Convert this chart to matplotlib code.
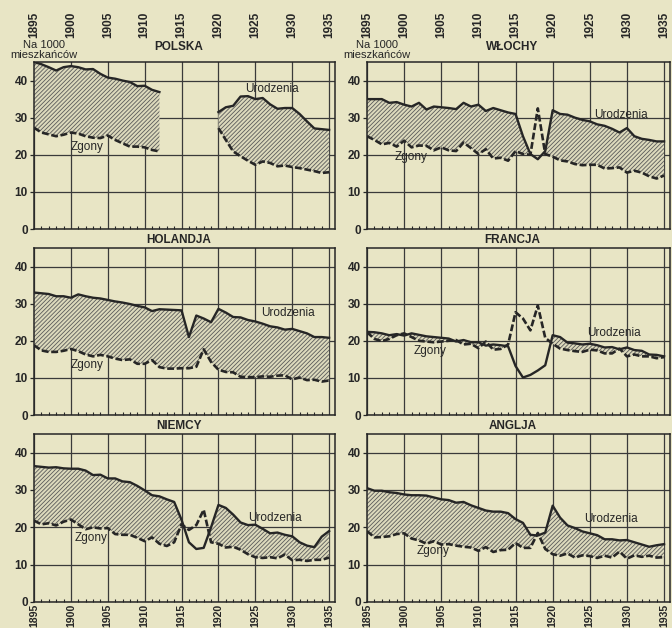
import matplotlib
matplotlib.use('Agg')
import matplotlib.pyplot as plt
import numpy as np
from matplotlib.ticker import MultipleLocator

plt.rcParams['font.family'] = ['Liberation Sans', 'DejaVu Sans']
plt.rcParams['hatch.linewidth'] = 0.6

nan = np.nan
years = list(range(1895, 1936))
year_ticks = list(range(1895, 1936, 5))
y_ticks = [0, 10, 20, 30, 40]

titles = ['POLSKA', 'WŁOCHY', 'HOLANDJA', 'FRANCJA', 'NIEMCY', 'ANGLJA']

polska_births = [45.0, 44.4, 43.6, 42.7, 43.6, 43.9, 43.6, 43.0, 43.1, 41.8, 40.8, 40.5, 40.0, 39.6,
                 38.5, 38.6, 37.5, 36.9, nan, nan, nan, nan, nan, nan, nan,
                 31.5, 32.8, 33.2, 35.7, 35.8, 35.0, 35.3, 33.6, 32.4, 32.6, 32.6, 31.0, 29.0, 27.1, 26.9, 26.7]
polska_deaths = [27.3, 26.0, 25.5, 25.0, 25.4, 26.0, 25.7, 25.0, 24.6, 24.5, 25.2, 24.0, 23.1, 22.2,
                 22.2, 22.0, 21.3, 20.9, nan, nan, nan, nan, nan, nan, nan,
                 27.2, 24.0, 20.9, 19.6, 18.4, 17.3, 18.2, 17.8, 16.9, 17.1, 16.7, 16.4, 16.0, 15.6, 15.1, 15.3]

wlochy_births = [35.0, 35.0, 35.0, 34.0, 34.2, 33.5, 33.0, 34.0, 32.2, 33.0, 32.8, 32.6, 32.3, 34.0,
                 33.0, 33.5, 31.8, 32.6, 32.0, 31.4, 31.0, 25.0, 20.2, 18.8, 21.0, 32.0, 31.0, 30.8,
                 30.0, 29.4, 29.0, 28.2, 27.8, 27.0, 26.0, 27.2, 25.0, 24.3, 24.0, 23.6, 23.6]
wlochy_deaths = [25.0, 24.0, 22.8, 23.2, 22.2, 23.8, 22.0, 22.5, 22.4, 21.2, 22.0, 21.2, 21.0, 23.3,
                 21.8, 20.2, 21.5, 19.0, 19.2, 18.4, 21.0, 20.2, 20.0, 32.5, 20.2, 19.5, 18.5, 18.2,
                 17.5, 17.2, 17.3, 17.3, 16.3, 16.4, 16.6, 15.2, 15.7, 15.2, 14.2, 13.6, 14.4]

holandja_births = [33.0, 32.8, 32.6, 32.0, 32.0, 31.6, 32.5, 32.0, 31.6, 31.4, 31.0, 30.6, 30.3, 29.9,
                   29.4, 29.0, 28.0, 28.5, 28.4, 28.3, 28.2, 21.0, 26.8, 26.0, 25.0, 28.6, 27.6, 26.4,
                   26.3, 25.6, 25.2, 24.6, 23.9, 23.6, 23.0, 23.2, 22.6, 22.0, 21.0, 21.0, 20.8]
holandja_deaths = [18.8, 17.4, 17.0, 17.0, 17.3, 17.8, 17.2, 16.3, 15.8, 16.2, 15.8, 15.2, 14.8, 15.0,
                   13.8, 13.8, 14.8, 12.9, 12.5, 12.5, 12.6, 12.6, 13.0, 17.7, 14.3, 12.2, 11.6, 11.5,
                   10.3, 10.2, 10.2, 10.4, 10.3, 10.6, 10.7, 9.6, 10.1, 9.4, 9.5, 9.0, 9.3]

francja_births = [22.4, 22.3, 22.0, 21.5, 21.8, 21.4, 22.0, 21.6, 21.2, 21.0, 20.8, 20.6, 19.8, 20.2,
                  19.6, 19.6, 18.7, 19.0, 18.8, 18.5, 13.2, 10.1, 10.8, 12.0, 13.4, 21.5, 21.0, 19.5,
                  19.3, 19.0, 19.2, 18.8, 18.2, 18.3, 17.7, 18.2, 17.5, 17.3, 16.3, 16.2, 15.8]
francja_deaths = [22.3, 20.5, 19.9, 20.5, 21.5, 22.0, 21.0, 20.0, 19.8, 19.6, 19.8, 20.0, 20.2, 19.0,
                  19.2, 18.0, 19.8, 17.6, 17.8, 19.0, 27.7, 26.0, 22.8, 29.5, 20.8, 19.2, 17.9, 17.5,
                  17.2, 17.0, 17.6, 17.4, 16.6, 16.6, 17.9, 15.8, 16.3, 15.8, 15.8, 15.3, 15.6]

niemcy_births = [36.4, 36.2, 36.0, 36.1, 35.8, 35.7, 35.7, 35.2, 34.0, 34.1, 33.1, 33.1, 32.3, 32.1,
                 31.1, 29.9, 28.6, 28.3, 27.5, 26.8, 22.0, 16.0, 14.2, 14.5, 20.0, 26.0, 25.2, 23.4,
                 21.3, 20.6, 20.7, 19.6, 18.4, 18.6, 18.0, 17.6, 16.0, 15.1, 14.7, 17.5, 19.0]
niemcy_deaths = [21.8, 20.8, 21.1, 20.5, 21.5, 22.1, 20.8, 19.5, 20.0, 19.7, 19.8, 18.2, 18.0, 18.0,
                 17.2, 16.3, 17.3, 15.6, 15.0, 16.0, 20.8, 19.3, 20.6, 24.7, 16.0, 15.6, 14.6, 14.8,
                 14.0, 12.8, 12.0, 11.8, 12.0, 11.7, 12.7, 11.2, 11.3, 11.0, 11.3, 11.3, 11.9]

anglja_births = [30.5, 29.8, 29.8, 29.4, 29.2, 28.8, 28.6, 28.6, 28.5, 28.0, 27.5, 27.3, 26.6, 26.8,
                 25.9, 25.2, 24.5, 24.2, 24.2, 23.8, 22.2, 21.2, 18.0, 17.8, 18.6, 25.8, 22.6, 20.5,
                 19.8, 18.9, 18.4, 17.9, 16.8, 16.8, 16.5, 16.6, 16.0, 15.4, 14.8, 15.2, 15.5]
anglja_deaths = [19.0, 17.3, 17.4, 17.6, 18.2, 18.4, 17.0, 16.5, 15.6, 16.3, 15.4, 15.5, 15.1, 14.8,
                 14.6, 13.7, 14.7, 13.4, 13.9, 14.0, 15.8, 14.5, 14.5, 18.5, 14.2, 12.8, 12.4, 13.0,
                 11.9, 12.5, 12.3, 11.8, 12.4, 11.9, 13.5, 11.6, 12.5, 12.1, 12.4, 11.9, 12.0]

births = [polska_births, wlochy_births, holandja_births, francja_births, niemcy_births, anglja_births]
deaths = [polska_deaths, wlochy_deaths, holandja_deaths, francja_deaths, niemcy_deaths, anglja_deaths]

# label positions (year, value) for "Urodzenia" and "Zgony"
urodzenia_pos = [(1927.3, 37.6), (1929.2, 30.8), (1929.4, 27.5), (1928.2, 22.1), (1927.7, 22.5), (1927.9, 22.1)]
zgony_pos = [(1902.2, 22.1), (1901.0, 19.4), (1902.2, 13.5), (1903.5, 17.2), (1902.7, 17.1), (1903.9, 13.7)]

BG = '#e8e5c5'
INK = '#262626'
GRID = '#3a3a3a'

fig = plt.figure(figsize=(6.72, 6.28), dpi=100, facecolor=BG)
W, H = 672.0, 628.0
cols = [(34, 335), (367, 670)]
rows = [(62, 229), (248, 415), (434, 602)]

for i in range(6):
    r, c = divmod(i, 2)
    x0, x1 = cols[c]
    y0, y1 = rows[r]
    ax = fig.add_axes([x0 / W, 1 - y1 / H, (x1 - x0) / W, (y1 - y0) / H])
    ax.set_facecolor(BG)
    ax.set_xlim(1895, 1935.8)
    ax.set_ylim(0, 45)
    yr = np.array(years, dtype=float)
    b = np.array(births[i], dtype=float)
    d = np.array(deaths[i], dtype=float)

    ax.set_xticks(year_ticks)
    ax.set_yticks(y_ticks)
    ax.xaxis.set_minor_locator(MultipleLocator(1))
    ax.grid(True, which='major', color=GRID, linewidth=0.9)
    ax.set_axisbelow(True)
    ax.tick_params(axis='x', which='major', length=0, labelbottom=False)
    ax.tick_params(axis='x', which='minor', direction='in', length=2.5, width=0.8, color=INK)
    ax.tick_params(axis='y', which='major', length=3, width=0.9, color=INK, pad=1.5,
                   labelsize=8.5, labelcolor=INK)
    for lab in ax.get_yticklabels():
        lab.set_fontweight('bold')
    for s in ax.spines.values():
        s.set_color(INK)
        s.set_linewidth(1.1)

    ax.fill_between(yr, d, b, where=(b >= d), interpolate=True, facecolor='#dcd9bc',
                    edgecolor='#5a5a5a', hatch='////////', linewidth=0, zorder=2)
    ax.plot(yr, b, color=INK, linewidth=1.7, solid_joinstyle='round', zorder=3)
    ax.plot(yr, d, color=INK, linewidth=1.9, linestyle=(0, (2.6, 1.0)), zorder=3)

    ty = 1.0 + (9 if r == 0 else 2) / 167
    ax.text(1914.6, ty, titles[i], transform=ax.get_xaxis_transform(), ha='center',
            va='bottom', fontsize=8.5, fontweight='bold', color=INK)

    ux, uy = urodzenia_pos[i]
    ax.text(ux, uy, 'Urodzenia', ha='center', va='center', fontsize=8.5, color=INK, zorder=4)
    zx, zy = zgony_pos[i]
    ax.text(zx, zy, 'Zgony', ha='center', va='center', fontsize=8.5, color=INK, zorder=4)

    if r == 0:
        for yv in year_ticks:
            ax.annotate(str(yv), xy=(yv, 1), xycoords=('data', 'axes fraction'),
                        xytext=(0, 17), textcoords='offset points', rotation=90,
                        ha='center', va='bottom', fontsize=8.5, fontweight='bold', color=INK,
                        annotation_clip=False)
        cx = (x0 + 10) / W
        fig.text(cx, 1 - 50 / H, 'Na 1000\nmieszkańców', ha='center', va='center',
                 fontsize=8, color=INK, linespacing=0.95)
    if r == 2:
        for yv in year_ticks:
            ax.annotate(str(yv), xy=(yv, 0), xycoords=('data', 'axes fraction'),
                        xytext=(0, -1), textcoords='offset points', rotation=90,
                        ha='center', va='top', fontsize=7.6, fontweight='bold', color=INK,
                        annotation_clip=False)

fig.savefig('out.png', dpi=100, facecolor=BG)
